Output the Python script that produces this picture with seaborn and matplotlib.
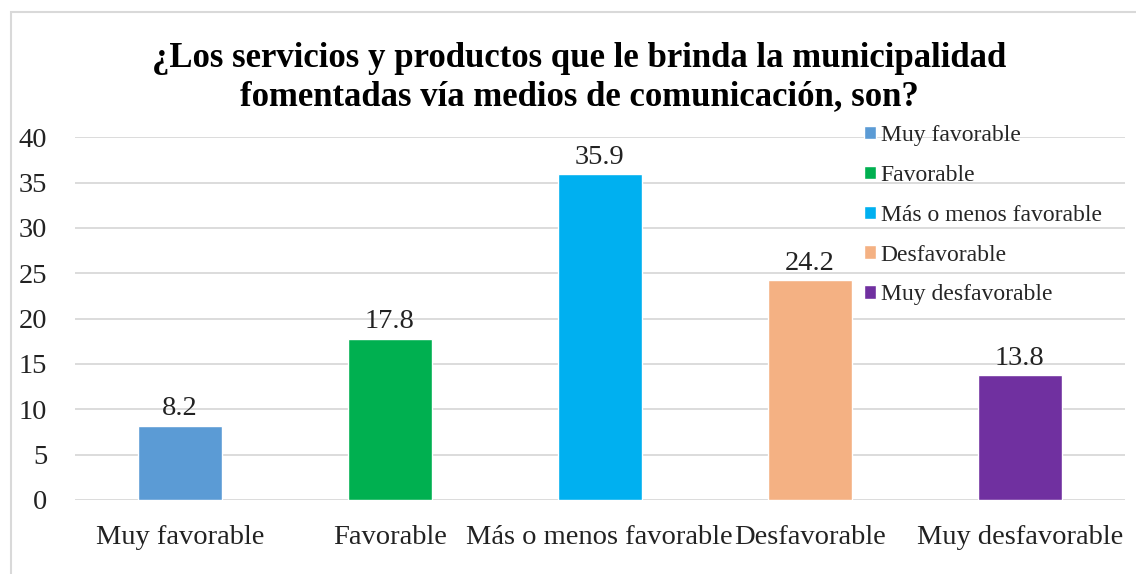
import pandas as pd
import matplotlib
matplotlib.use("Agg")
import matplotlib.pyplot as plt
import seaborn as sns
from matplotlib.patches import Rectangle

categorias = ["Muy favorable", "Favorable", "Más o menos favorable",
              "Desfavorable", "Muy desfavorable"]
porcentajes = [8.2, 17.8, 35.9, 24.2, 13.8]
colores = ["#5B9BD5", "#00B050", "#00B0F0", "#F4B183", "#7030A0"]
titulo = ("¿Los servicios y productos que le brinda la municipalidad\n"
          "fomentadas vía medios de comunicación, son?")

df = pd.DataFrame({"categoria": categorias, "valor": porcentajes})

sns.set_theme(style="white")
plt.rcParams["font.family"] = ["Liberation Serif", "DejaVu Serif"]

fig = plt.figure(figsize=(11.36, 5.74), dpi=100)
ax = fig.add_axes([0.066, 0.129, 0.924, 0.632])

sns.barplot(data=df, x="categoria", y="valor", hue="categoria",
            palette=colores, width=0.4, dodge=False, legend=True,
            saturation=1, ax=ax)

for cont in ax.containers:
    ax.bar_label(cont, fmt="%.1f", padding=3, fontsize=20.5, color="#222222")

ax.set_ylim(0, 40)
ax.set_yticks(range(0, 41, 5))
ax.set_xlim(-0.5, 4.5)
ax.yaxis.grid(True, color="#d9d9d9", linewidth=1.3)
ax.set_axisbelow(True)
for s in ax.spines.values():
    s.set_visible(False)
ax.set_xlabel("")
ax.set_ylabel("")
ax.tick_params(axis="y", labelsize=20.5, pad=20, length=0, colors="#222222")
ax.tick_params(axis="x", labelsize=20.5, pad=18, length=0, colors="#222222")

leg = ax.legend(loc="upper left", bbox_to_anchor=(0.743, 1.06),
                frameon=False, fontsize=17, handlelength=0.5,
                handleheight=0.5, handletextpad=0.2, labelspacing=0.8,
                borderaxespad=0)

fig.text(0.51, 0.865, titulo, ha="center", va="center", fontsize=25,
         fontweight="bold", linespacing=1.22, color="black")

fig.patches.append(Rectangle((11 / 1136, -0.01), 1.0, 1 - 12 / 574 + 0.01,
                             transform=fig.transFigure, fill=False,
                             edgecolor="#d9d9d9", linewidth=1.5))

fig.savefig("out.png", dpi=100)
